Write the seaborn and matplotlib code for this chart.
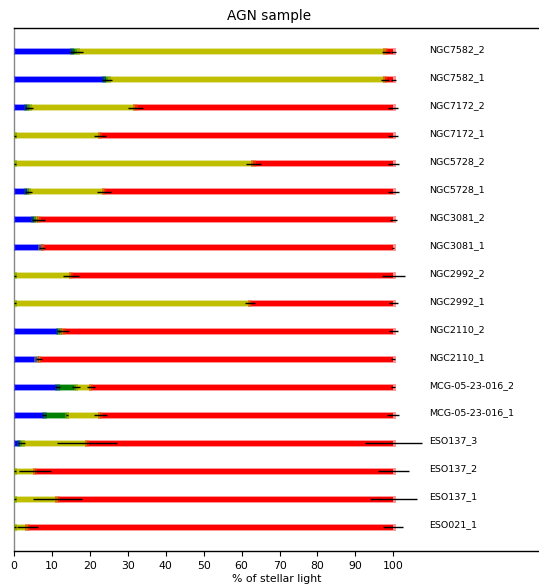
import numpy as np
import seaborn as sns
from matplotlib import pyplot as plt
from matplotlib.colors import to_rgba

# rows listed top to bottom, % of stellar light per component
names = ['NGC7582_2', 'NGC7582_1', 'NGC7172_2', 'NGC7172_1', 'NGC5728_2', 'NGC5728_1',
         'NGC3081_2', 'NGC3081_1', 'NGC2992_2', 'NGC2992_1', 'NGC2110_2', 'NGC2110_1',
         'MCG-05-23-016_2', 'MCG-05-23-016_1', 'ESO137_3', 'ESO137_2', 'ESO137_1', 'ESO021_1']
blue = [15.3, 23.7, 3.3, 0, 0, 3.3, 5.1, 7.0, 0, 0, 11.7, 6.0, 11.4, 8.0, 1.3, 0, 0, 0]
green = [1.4, 1.2, 0.8, 0.3, 0.2, 0.7, 0.7, 0.0, 0.2, 0.2, 0.4, 0.0, 5.0, 6.0, 0.9, 0.2, 0.2, 0.2]
yellow = [81.3, 72.9, 27.9, 22.4, 62.9, 19.7, 0.8, 0.7, 14.8, 62.0, 0.9, 0.8, 3.9, 8.8, 17.0, 5.3, 11.3, 3.4]
blue_err = [0.5, 0.6, 0.5, 0, 0, 0.3, 0.3, 0.3, 0, 0, 0.3, 0.3, 0.7, 0.5, 0.3, 0, 0, 0]
green_err = [1.6, 1.0, 0.8, 0.2, 0.2, 0.8, 0.4, 0, 0.2, 0.2, 0.3, 0, 1.0, 0.3, 0.7, 0.2, 0.2, 0.2]
yellow_err = [1.0, 1.0, 1.9, 1.6, 1.9, 1.8, 1.5, 0.4, 2.1, 1.3, 1.4, 0.7, 1.0, 1.8, 7.9, 4.2, 6.4, 2.7]
red_err = [0.6, 0.6, 1.3, 1.3, 1.5, 1.5, 0.9, 0.3, 3.0, 1.2, 1.1, 0.5, 0.5, 1.6, 7.6, 4.0, 6.2, 2.6]

sns.set_style('ticks', {'axes.edgecolor': 'black', 'text.color': 'black',
                        'xtick.color': 'black', 'axes.labelcolor': 'black'})
plt.rcParams['font.family'] = ['DejaVu Sans']

blue = np.array(blue)
green = np.array(green)
yellow = np.array(yellow)
red = 100 - blue - green - yellow
comps = [blue, green, yellow, red]
errs = [blue_err, green_err, yellow_err, red_err]
cols = ['#0000ff', '#008000', '#bfbf00', '#ff0000']

n = len(names)
ypos = np.arange(n)[::-1]

fig = plt.figure(figsize=(5.39, 5.88), dpi=100)
ax = fig.add_axes([14/539, 37/588, 525/539, 523/588])

left = np.zeros(n)
for vals, c in zip(comps, cols):
    ax.barh(ypos, vals, left=left, height=0.18, color=c, linewidth=0, zorder=2)
    left = left + vals

# soft halo around each segment
left = np.zeros(n)
pad = 0.6
for vals, c in zip(comps, cols):
    m = vals > 0
    ax.barh(ypos[m], vals[m] + 2*pad, left=left[m] - pad, height=0.24,
            color=to_rgba(c, 0.4), linewidth=0, zorder=3)
    left = left + vals

left = np.zeros(n)
for vals, e in zip(comps, errs):
    left = left + vals
    e = np.array(e)
    m = e > 0
    ax.errorbar(left[m], ypos[m], xerr=e[m], fmt='none', ecolor='k',
                elinewidth=1.0, capsize=0, zorder=4)

for y, name in zip(ypos, names):
    ax.text(109.5, y + 0.08, name, fontsize=6.8, va='center', ha='left')

ax.set_xlim(0, 138.4)
ax.set_ylim(-0.85, 17.85)
ax.set_xticks(np.arange(0, 101, 10))
ax.set_yticks([])
ax.tick_params(axis='x', labelsize=7.8, length=3.5, width=0.8)
ax.set_xlabel('% of stellar light', fontsize=7.8, labelpad=2)
ax.spines['right'].set_visible(False)
ax.spines['left'].set_color('#888888')
for s in ['top', 'bottom', 'left']:
    ax.spines[s].set_linewidth(1.0)
fig.suptitle('AGN sample', x=0.5, y=0.985, fontsize=9.8, va='top')

fig.savefig('out.png', dpi=100)
